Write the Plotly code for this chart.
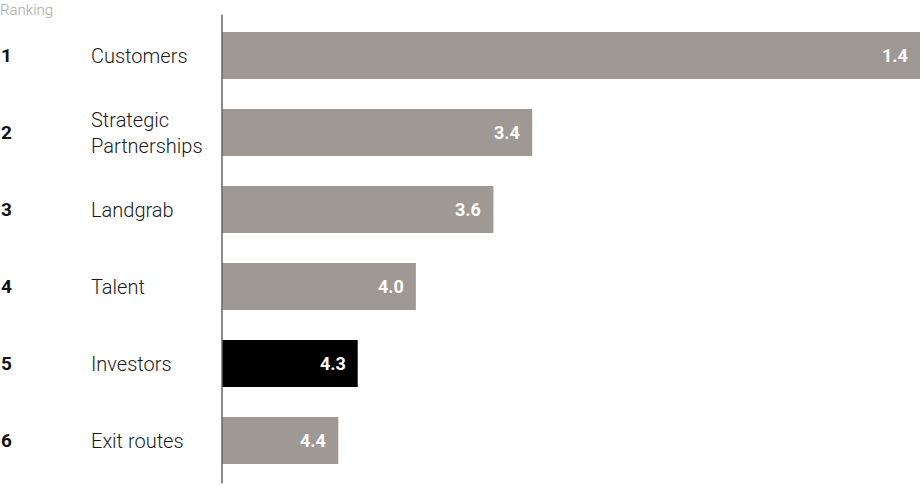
import plotly.graph_objects as go

ranks = ["1", "2", "3", "4", "5", "6"]
categories = ["Customers", "Strategic<br>Partnerships", "Landgrab", "Talent", "Investors", "Exit routes"]
values = [1.4, 3.4, 3.6, 4.0, 4.3, 4.4]
highlight = "Investors"
scale_max = 5.0  # bar length = scale_max - average ranking

GREY = "#9e9994"
BLACK = "#000000"

W, H = 922, 487
ML, MR, MT, MB = 222, 2, 17, 8
PW = W - ML - MR

lengths = [scale_max - v for v in values]
colors = [BLACK if c == highlight else GREY for c in categories]

fig = go.Figure()
fig.add_trace(go.Bar(
    x=lengths, y=categories, orientation="h",
    marker=dict(color=colors, line=dict(width=0)),
    width=0.61, hoverinfo="skip",
))

def px_to_paper(px):
    return (px - ML) / PW

annotations = []
for r, c, v, L in zip(ranks, categories, values, lengths):
    annotations.append(dict(x=px_to_paper(0), xref="paper", y=c, yref="y", text=r,
                            showarrow=False, xanchor="left", yanchor="middle", xshift=-1,
                            font=dict(family="Roboto", size=19, color="#111", weight=700)))
    annotations.append(dict(x=px_to_paper(89), xref="paper", y=c, yref="y", text=c,
                            showarrow=False, xanchor="left", yanchor="middle", align="left",
                            font=dict(family="Roboto", size=20, color="#1a1a1a", weight=300)))
    annotations.append(dict(x=L, xref="x", y=c, yref="y", text=f"{v:.1f}",
                            showarrow=False, xanchor="right", yanchor="middle", xshift=-10,
                            font=dict(family="Roboto", size=18, color="white", weight=700)))
annotations.append(dict(x=px_to_paper(0), xref="paper", y=1, yref="paper", yshift=7, text="Ranking",
                        showarrow=False, xanchor="left", yanchor="middle", xshift=-2,
                        font=dict(family="Roboto", size=15, color="#a8a8a8", weight=300)))

fig.update_layout(
    width=W, height=H,
    margin=dict(l=ML, r=MR, t=MT, b=MB),
    paper_bgcolor="white", plot_bgcolor="white",
    showlegend=False,
    xaxis=dict(range=[0, max(lengths)], visible=False, fixedrange=True),
    yaxis=dict(autorange="reversed", showticklabels=False, showgrid=False, zeroline=False,
               showline=False, ticks="", fixedrange=True),
    annotations=annotations,
    shapes=[dict(type="line", xref="paper", yref="paper", x0=0, x1=0, y0=-0.01, y1=1.005,
                 line=dict(color="#666", width=1.5))],
)

fig.write_html("out.html", config={"displayModeBar": False},
               post_script="document.body.style.margin='0';document.body.style.padding='0';")
